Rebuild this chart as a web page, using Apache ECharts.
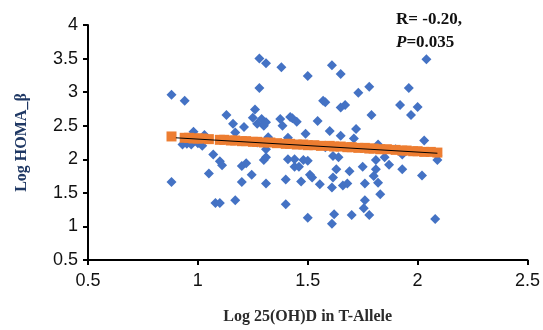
<!DOCTYPE html>
<html>
<head>
<meta charset="utf-8">
<script src="https://cdn.jsdelivr.net/npm/echarts@6/dist/echarts.min.js"></script>
<style>
  html, body { margin: 0; padding: 0; background: #fff; }
  #chart { width: 543px; height: 330px; }
</style>
</head>
<body>
<div id="chart"></div>
<script>
// blue diamonds: [log 25(OH)D, log HOMA_beta]
const points = [
  [0.88, 2.96], [0.88, 1.66], [0.94, 2.87], [0.98, 2.41], [0.93, 2.22], [0.95, 2.23],
  [0.97, 2.22], [1.0, 2.24], [1.03, 2.36], [1.02, 2.20], [1.07, 2.07], [1.05, 1.79],
  [1.10, 1.97], [1.11, 1.91], [1.08, 1.35], [1.10, 1.35], [1.13, 2.66], [1.16, 2.53],
  [1.17, 2.40], [1.17, 1.39], [1.20, 1.66], [1.21, 2.48], [1.20, 1.90], [1.22, 1.94],
  [1.245, 1.77], [1.26, 2.74], [1.25, 2.62], [1.27, 2.53], [1.28, 3.50], [1.31, 3.43],
  [1.28, 3.06], [1.29, 2.60], [1.30, 2.50], [1.31, 2.55], [1.30, 1.99], [1.31, 2.03],
  [1.31, 2.15], [1.31, 1.64], [1.32, 2.33], [1.27, 2.25], [1.38, 3.37], [1.375, 2.60],
  [1.385, 2.50], [1.40, 1.70], [1.40, 1.33], [1.41, 2.32], [1.41, 2.00], [1.42, 2.63],
  [1.43, 2.61], [1.44, 1.89], [1.44, 2.00], [1.45, 2.56], [1.46, 1.89], [1.47, 1.67],
  [1.48, 1.99], [1.50, 3.24], [1.49, 2.38], [1.50, 1.98], [1.50, 1.13], [1.51, 1.77],
  [1.52, 1.73], [1.545, 2.57], [1.555, 1.63], [1.57, 2.87], [1.58, 2.85], [1.60, 2.42],
  [1.61, 3.40], [1.61, 1.58], [1.615, 1.73], [1.61, 1.04], [1.615, 2.05], [1.62, 1.18],
  [1.63, 1.85], [1.65, 3.27], [1.65, 2.35], [1.64, 2.03], [1.65, 2.77], [1.67, 2.81],
  [1.66, 1.61], [1.68, 1.64], [1.69, 1.82], [1.70, 1.17], [1.71, 2.31], [1.72, 2.45],
  [1.73, 2.99], [1.75, 1.89], [1.755, 1.27], [1.76, 1.39], [1.76, 1.64], [1.78, 3.08],
  [1.79, 2.66], [1.78, 1.17], [1.80, 1.75], [1.81, 1.99], [1.81, 1.85], [1.82, 1.65],
  [1.83, 1.48], [1.82, 2.22], [1.85, 2.03], [1.87, 1.92], [1.92, 2.81], [1.93, 2.07],
  [1.93, 1.85], [1.96, 3.06], [1.97, 2.66], [2.00, 2.78], [2.02, 1.76], [2.03, 2.28],
  [2.04, 3.49], [2.08, 1.11], [2.09, 1.99], [2.09, 2.06], [1.58, 2.18], [1.90, 2.15]
];

// orange squares: predicted values along the fit
const fitted = [
  [0.88, 2.34], [0.94, 2.32], [0.96, 2.32], [0.98, 2.31], [1.0, 2.31], [1.02, 2.31],
  [1.05, 2.30], [1.10, 2.29], [1.12, 2.29], [1.15, 2.28], [1.17, 2.28], [1.20, 2.27],
  [1.22, 2.27], [1.25, 2.26], [1.27, 2.26], [1.30, 2.25], [1.33, 2.25], [1.36, 2.24],
  [1.40, 2.23], [1.42, 2.23], [1.45, 2.22], [1.48, 2.22], [1.50, 2.21], [1.53, 2.21],
  [1.56, 2.20], [1.60, 2.20], [1.62, 2.19], [1.65, 2.19], [1.68, 2.18], [1.70, 2.18],
  [1.73, 2.17], [1.76, 2.17], [1.78, 2.16], [1.80, 2.16], [1.83, 2.15], [1.86, 2.15],
  [1.90, 2.14], [1.93, 2.13], [1.95, 2.13], [1.98, 2.12], [2.00, 2.12], [2.03, 2.11],
  [2.06, 2.11], [2.09, 2.10]
];

// black trend line end points
const trend = [[0.90, 2.32], [2.09, 2.09]];

const xTicks = { min: 0.5, max: 2.5, interval: 0.5 };
const yTicks = { min: 0.5, max: 4, interval: 0.5 };

const chart = echarts.init(document.getElementById('chart'));

const axisCommon = {
  axisLine: { show: true, lineStyle: { color: '#000', width: 2 } },
  axisTick: { show: true, length: 5, lineStyle: { color: '#000', width: 2 } },
  splitLine: { show: false },
  axisLabel: { color: '#111', fontSize: 18, fontFamily: 'Liberation Sans' },
  nameTextStyle: { fontFamily: 'Liberation Serif', fontWeight: 'bold', fontSize: 16 }
};

chart.setOption({
  animation: false,
  backgroundColor: '#fff',
  grid: { left: 88, right: 15, top: 25, bottom: 70 },
  xAxis: {
    type: 'value',
    ...xTicks,
    ...axisCommon,
    axisLabel: { ...axisCommon.axisLabel, margin: 12 },
    name: 'Log 25(OH)D in T-Allele',
    nameLocation: 'middle',
    nameGap: 49,
    nameTextStyle: { ...axisCommon.nameTextStyle, color: '#2b2b2b' }
  },
  yAxis: {
    type: 'value',
    ...yTicks,
    ...axisCommon,
    axisLabel: { ...axisCommon.axisLabel, margin: 10 },
    name: 'Log HOMA_β',
    nameLocation: 'middle',
    nameGap: 58,
    nameTextStyle: { ...axisCommon.nameTextStyle, color: '#1f3864' }
  },
  graphic: [
    {
      type: 'text',
      left: 396,
      top: 11,
      style: {
        text: 'R= -0.20,',
        font: 'bold 17px "Liberation Serif"',
        fill: '#111'
      }
    },
    {
      type: 'text',
      left: 396,
      top: 34,
      style: {
        text: '{i|P}{n|=0.035}',
        rich: {
          i: { font: 'italic bold 17px "Liberation Serif"', fill: '#111' },
          n: { font: 'bold 17px "Liberation Serif"', fill: '#111' }
        }
      }
    }
  ],
  series: [
    {
      type: 'scatter',
      data: points,
      symbol: 'diamond',
      symbolSize: 10,
      itemStyle: { color: '#4472c4', opacity: 1 },
      z: 2
    },
    {
      type: 'scatter',
      data: fitted,
      symbol: 'rect',
      symbolSize: 10,
      itemStyle: { color: '#ed7d31', opacity: 1 },
      z: 3
    },
    {
      type: 'line',
      data: trend,
      symbol: 'none',
      lineStyle: { color: '#000', width: 1 },
      z: 4
    }
  ]
});
</script>
</body>
</html>
